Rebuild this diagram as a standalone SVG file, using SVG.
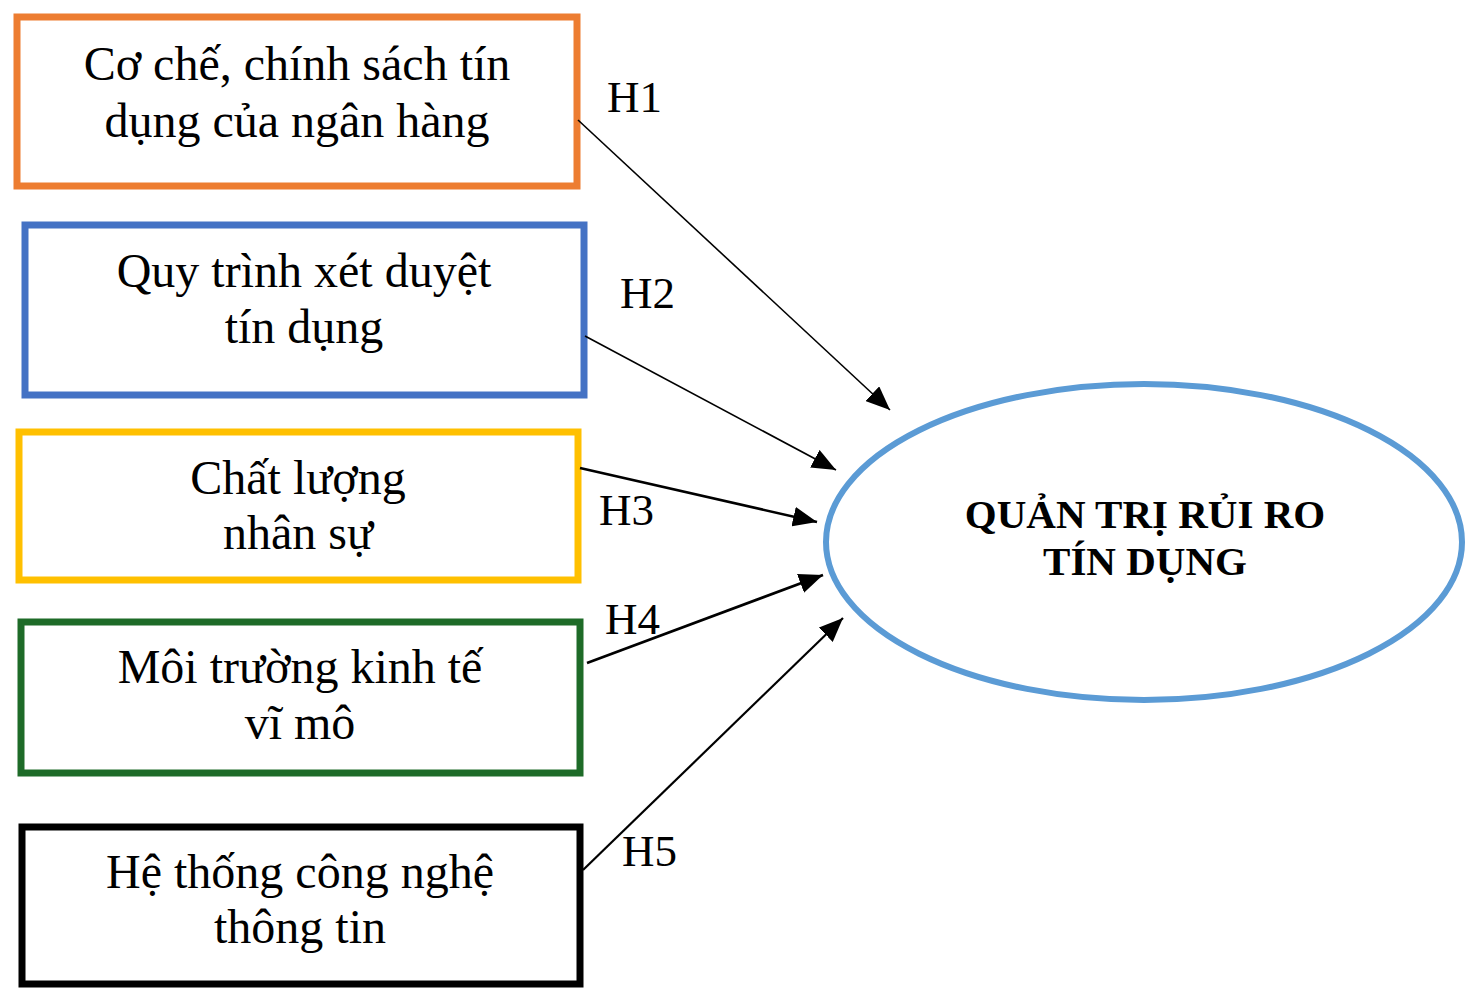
<svg xmlns="http://www.w3.org/2000/svg" width="1479" height="1003" viewBox="0 0 1479 1003">
<style>
.box{fill:#fff;stroke-width:7}
.t{font-family:"Liberation Serif","Times New Roman",serif;font-size:48px;fill:#000;text-anchor:middle}
.h{font-family:"Liberation Serif","Times New Roman",serif;font-size:45px;fill:#000}
.b{font-family:"Liberation Serif","Times New Roman",serif;font-size:41px;font-weight:bold;fill:#000;text-anchor:middle}
.c{stroke:#000;fill:none}
</style>
<defs>
<marker id="ah" markerUnits="userSpaceOnUse" markerWidth="26" markerHeight="20" refX="24" refY="10" orient="auto">
<path d="M0,0 L24,10 L0,20 Z" fill="#000"/>
</marker>
</defs>
<rect width="1479" height="1003" fill="#fff"/>
<g id="n1">
<rect class="box" x="17" y="17" width="560" height="169" stroke="#ED7D31"/>
<text class="t" x="297" y="80">Cơ chế, chính sách tín</text>
<text class="t" x="297" y="137">dụng của ngân hàng</text>
</g>
<g id="n2">
<rect class="box" x="25" y="225" width="559" height="170" stroke="#4472C4"/>
<text class="t" x="304" y="287">Quy trình xét duyệt</text>
<text class="t" x="304" y="343">tín dụng</text>
</g>
<g id="n3">
<rect class="box" x="19" y="432" width="559" height="148" stroke="#FFC000"/>
<text class="t" x="298" y="494">Chất lượng</text>
<text class="t" x="298" y="549">nhân sự</text>
</g>
<g id="n4">
<rect class="box" x="21" y="622" width="559" height="151" stroke="#1E6B28"/>
<text class="t" x="300" y="683">Môi trường kinh tế</text>
<text class="t" x="300" y="739">vĩ mô</text>
</g>
<g id="n5">
<rect class="box" x="22" y="827" width="558" height="157" stroke="#000"/>
<text class="t" x="300" y="888">Hệ thống công nghệ</text>
<text class="t" x="300" y="943">thông tin</text>
</g>
<g id="target">
<ellipse cx="1144" cy="542" rx="318" ry="158" fill="#fff" stroke="#5B9BD5" stroke-width="6"/>
<text class="b" x="1145" y="528">QUẢN TRỊ RỦI RO</text>
<text class="b" x="1145" y="575">TÍN DỤNG</text>
</g>
<g id="connectors">
<line class="c" x1="578" y1="120" x2="890" y2="410" stroke-width="1.6" marker-end="url(#ah)"/>
<line class="c" x1="585" y1="336" x2="836" y2="470" stroke-width="1.6" marker-end="url(#ah)"/>
<line class="c" x1="580" y1="468" x2="817" y2="522" stroke-width="2.6" marker-end="url(#ah)"/>
<line class="c" x1="587" y1="663" x2="823" y2="575" stroke-width="2.6" marker-end="url(#ah)"/>
<line class="c" x1="583" y1="870" x2="843" y2="618" stroke-width="2.2" marker-end="url(#ah)"/>
<text class="h" x="607" y="112">H1</text>
<text class="h" x="620" y="308">H2</text>
<text class="h" x="599" y="525">H3</text>
<text class="h" x="605" y="634">H4</text>
<text class="h" x="622" y="866">H5</text>
</g>
</svg>
